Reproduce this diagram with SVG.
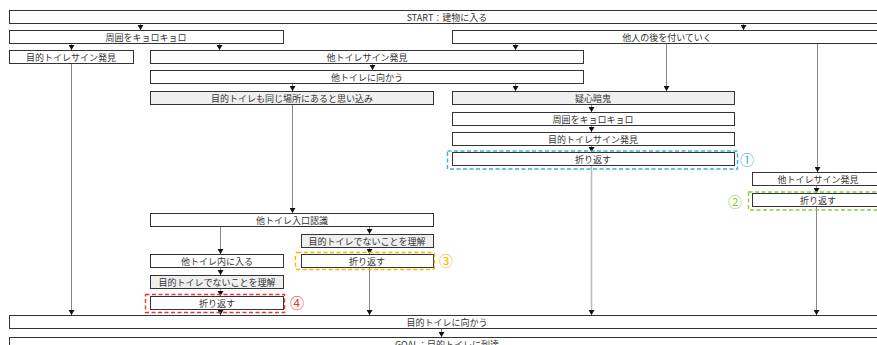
<svg xmlns="http://www.w3.org/2000/svg" width="877" height="345" viewBox="0 0 877 345">
<defs>
<marker id="ah" markerWidth="5" markerHeight="6" refX="5" refY="3" orient="auto" markerUnits="userSpaceOnUse" viewBox="0 0 5 6">
<path d="M0,0 L5,3 L0,6 Z" fill="#111"/>
</marker>
<style>
.b{fill:#fff;stroke:#333;stroke-width:1}
.g{fill:#efefef;stroke:#333;stroke-width:1}
.t{font-family:"Noto Sans CJK JP","Noto Sans",sans-serif;font-size:9px;fill:#333;text-anchor:middle;dominant-baseline:central}
.c{stroke:#888;stroke-width:1;fill:none}
.cl{stroke:#bbb;stroke-width:1.6;fill:none}
.d{fill:none;stroke-width:1.4;stroke-dasharray:4 2.5}
.n{font-family:"Noto Sans CJK JP","Noto Sans",sans-serif;font-size:14px;text-anchor:middle;dominant-baseline:central}
</style>
</defs>
<rect width="877" height="345" fill="#fff"/>
<g id="connectors">
<line class="c" x1="140.5" y1="24" x2="140.5" y2="30" marker-end="url(#ah)"/>
<line class="c" x1="743.5" y1="24" x2="743.5" y2="30" marker-end="url(#ah)"/>
<line class="c" x1="71.5" y1="44" x2="71.5" y2="50" marker-end="url(#ah)"/>
<line class="c" x1="219.5" y1="44" x2="219.5" y2="50" marker-end="url(#ah)"/>
<line class="c" x1="515.5" y1="44" x2="515.5" y2="50" marker-end="url(#ah)"/>
<line class="c" x1="372.5" y1="64" x2="372.5" y2="70" marker-end="url(#ah)"/>
<line class="c" x1="292.5" y1="84" x2="292.5" y2="91" marker-end="url(#ah)"/>
<line class="c" x1="515.5" y1="84" x2="515.5" y2="91" marker-end="url(#ah)"/>
<line class="c" x1="666.5" y1="44" x2="666.5" y2="91" marker-end="url(#ah)"/>
<line class="c" x1="817.5" y1="44" x2="817.5" y2="172" marker-end="url(#ah)"/>
<line class="c" x1="591.5" y1="105" x2="591.5" y2="112" marker-end="url(#ah)"/>
<line class="c" x1="591.5" y1="126" x2="591.5" y2="132" marker-end="url(#ah)"/>
<line class="c" x1="591.5" y1="146" x2="591.5" y2="152" marker-end="url(#ah)"/>
<line class="cl" x1="591.5" y1="166" x2="591.5" y2="315" marker-end="url(#ah)"/>
<line class="c" x1="816.5" y1="186" x2="816.5" y2="193" marker-end="url(#ah)"/>
<line class="c" x1="816.5" y1="207" x2="816.5" y2="315" marker-end="url(#ah)"/>
<line class="c" x1="71.5" y1="64" x2="71.5" y2="315" marker-end="url(#ah)"/>
<line class="c" x1="292.5" y1="105" x2="292.5" y2="213" marker-end="url(#ah)"/>
<line class="c" x1="369.5" y1="227" x2="369.5" y2="234" marker-end="url(#ah)"/>
<line class="c" x1="220.5" y1="227" x2="220.5" y2="254" marker-end="url(#ah)"/>
<line class="c" x1="369.5" y1="247" x2="369.5" y2="254" marker-end="url(#ah)"/>
<line class="c" x1="369.5" y1="268" x2="369.5" y2="315" marker-end="url(#ah)"/>
<line class="c" x1="220.5" y1="268" x2="220.5" y2="275" marker-end="url(#ah)"/>
<line class="c" x1="220.5" y1="289" x2="220.5" y2="296" marker-end="url(#ah)"/>
<line class="c" x1="220.5" y1="309" x2="220.5" y2="315" marker-end="url(#ah)"/>
<line class="c" x1="441.5" y1="329" x2="441.5" y2="337" marker-end="url(#ah)"/>
</g>
<g id="start"><rect class="b" x="9.5" y="10.5" width="877" height="13"/><text class="t" x="447" y="17">START：建物に入る</text></g>
<g id="kyoro1"><rect class="b" x="9.5" y="30.5" width="274" height="13"/><text class="t" x="146" y="37">周囲をキョロキョロ</text></g>
<g id="follow"><rect class="b" x="452.5" y="30.5" width="430" height="13"/><text class="t" x="667" y="37">他人の後を付いていく</text></g>
<g id="sign1"><rect class="b" x="9.5" y="50.5" width="124" height="13"/><text class="t" x="71" y="57">目的トイレサイン発見</text></g>
<g id="othersign"><rect class="b" x="150.5" y="50.5" width="433" height="13"/><text class="t" x="367" y="57">他トイレサイン発見</text></g>
<g id="toother"><rect class="b" x="150.5" y="70.5" width="433" height="13"/><text class="t" x="367" y="77">他トイレに向かう</text></g>
<g id="assume"><rect class="g" x="150.5" y="91.5" width="283" height="13"/><text class="t" x="292" y="98">目的トイレも同じ場所にあると思い込み</text></g>
<g id="doubt"><rect class="g" x="452.5" y="91.5" width="282" height="13"/><text class="t" x="593" y="98">疑心暗鬼</text></g>
<g id="kyoro2"><rect class="b" x="452.5" y="112.5" width="282" height="13"/><text class="t" x="593" y="119">周囲をキョロキョロ</text></g>
<g id="sign2"><rect class="b" x="452.5" y="132.5" width="282" height="13"/><text class="t" x="593" y="139">目的トイレサイン発見</text></g>
<g id="turn1"><rect class="b" x="452.5" y="152.5" width="282" height="13"/><text class="t" x="593" y="159">折り返す</text>
<rect class="d" x="447.5" y="151" width="290" height="18" stroke="#3cb0e4"/><text class="n" x="747" y="159" fill="#3cb0e4">①</text></g>
<g id="othersign2"><rect class="b" x="752.5" y="172.5" width="132" height="13"/><text class="t" x="818" y="179">他トイレサイン発見</text></g>
<g id="turn2"><rect class="b" x="752.5" y="193.5" width="132" height="13"/><text class="t" x="818" y="200">折り返す</text>
<rect class="d" x="748.5" y="192" width="140" height="18" stroke="#8ccc46"/><text class="n" x="735" y="201" fill="#8ccc46">②</text></g>
<g id="entrance"><rect class="b" x="150.5" y="213.5" width="283" height="13"/><text class="t" x="292" y="220">他トイレ入口認識</text></g>
<g id="notgoal1"><rect class="g" x="301.5" y="234.5" width="132" height="13"/><text class="t" x="367" y="241">目的トイレでないことを理解</text></g>
<g id="turn3"><rect class="b" x="301.5" y="254.5" width="132" height="13"/><text class="t" x="367" y="261">折り返す</text>
<rect class="d" x="295.5" y="252.5" width="139" height="17" rx="2" stroke="#f5b400"/><text class="n" x="446" y="260" fill="#f5b400">③</text></g>
<g id="enter"><rect class="b" x="150.5" y="254.5" width="133" height="13"/><text class="t" x="217" y="261">他トイレ内に入る</text></g>
<g id="notgoal2"><rect class="g" x="150.5" y="275.5" width="133" height="13"/><text class="t" x="217" y="282">目的トイレでないことを理解</text></g>
<g id="turn4"><rect class="b" x="150.5" y="296.5" width="133" height="13"/><text class="t" x="217" y="303">折り返す</text>
<rect class="d" x="145.5" y="294.5" width="139" height="18" stroke="#ee3333"/><text class="n" x="297" y="302" fill="#ee3333">④</text></g>
<g id="togoal"><rect class="b" x="9.5" y="315.5" width="877" height="13"/><text class="t" x="447" y="322">目的トイレに向かう</text></g>
<g id="goal"><rect class="b" x="9.5" y="337.5" width="877" height="13"/><text class="t" x="447" y="344">GOAL：目的トイレに到達</text></g>
</svg>
